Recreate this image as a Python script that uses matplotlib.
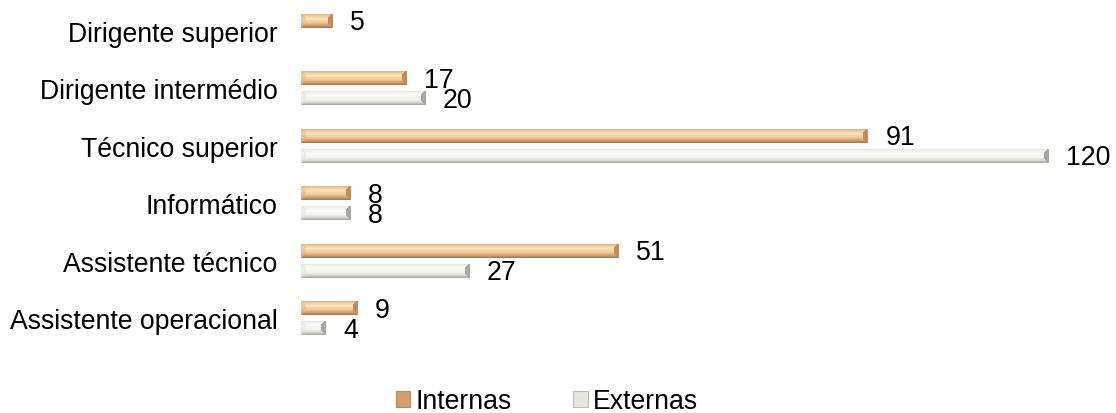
import numpy as np
import matplotlib
matplotlib.use("Agg")
import matplotlib.pyplot as plt
from matplotlib.patches import Patch

categories = ["Dirigente superior", "Dirigente intermédio", "Técnico superior",
              "Informático", "Assistente técnico", "Assistente operacional"]
internas = [5, 17, 91, 8, 51, 9]
externas = [np.nan, 20, 120, 8, 27, 4]
series_names = ["Internas", "Externas"]

plt.rcParams['font.family'] = ['Liberation Sans', 'DejaVu Sans']
FS = 19.2

W, H, DPI = 1116, 414, 100
fig = plt.figure(figsize=(W / DPI, H / DPI), dpi=DPI)
ax = fig.add_axes([301 / W, 66 / H, 810 / W, 345 / H])

n = len(categories)
ypos = np.arange(n)
off = 0.174
bh = 0.25

schemes = {
    "Internas": dict(base="#d9ab7c",
                     prof=[(0.00, (212, 166, 120)), (0.18, (240, 205, 160)),
                           (0.40, (254, 232, 188)), (0.62, (238, 200, 152)),
                           (0.82, (212, 162, 114)), (1.00, (172, 124, 80))],
                     end=(192, 142, 94), left=(224, 182, 136)),
    "Externas": dict(base="#eeeeea",
                     prof=[(0.00, (224, 224, 218)), (0.18, (244, 244, 238)),
                           (0.40, (252, 252, 248)), (0.62, (242, 242, 236)),
                           (0.82, (220, 220, 214)), (1.00, (172, 172, 166)),
                           ],
                     end=(168, 168, 162), left=(230, 230, 224)),
}

ax.set_xlim(0, 130)
ax.set_ylim(n - 0.5, -0.5)


def bevel_image(wpx, hpx, sch):
    wpx = max(int(round(wpx)), 2)
    hpx = max(int(round(hpx)), 2)
    t = np.linspace(0, 1, hpx)
    stops = np.array([s[0] for s in sch["prof"]])
    cols = np.array([s[1] for s in sch["prof"]], float)
    prof = np.stack([np.interp(t, stops, cols[:, k]) for k in range(3)], axis=1)
    img = np.repeat(prof[:, None, :], wpx, axis=1)
    bev = 5
    end = np.array(sch["end"], float)
    left = np.array(sch["left"], float)
    for r in range(hpx):
        d = min(r, hpx - 1 - r)
        bw = min(bev, d + 1)
        img[r, wpx - bw:, :] = end
        img[r, :min(bw, wpx), :] = 0.5 * img[r, :min(bw, wpx), :] + 0.5 * left
    return img / 255.0


def draw_series(vals, ys, name):
    sch = schemes[name]
    v = np.array(vals, float)
    bars = ax.barh(ys, np.nan_to_num(v), height=bh, color=sch["base"], label=name)
    for b, val in zip(bars, v):
        if np.isnan(val) or val == 0:
            b.set_visible(False)
            continue
        x0, y0 = b.get_x(), b.get_y()
        w, h = b.get_width(), b.get_height()
        p0 = ax.transData.transform((x0, y0))
        p1 = ax.transData.transform((x0 + w, y0 + h))
        img = bevel_image(abs(p1[0] - p0[0]), abs(p1[1] - p0[1]), sch)
        im = ax.imshow(img, extent=(x0, x0 + w, y0 + h, y0), aspect='auto',
                       interpolation='nearest', zorder=3)
        im.set_clip_path(b)
        ax.annotate(f"{int(val)}", xy=(x0 + w, y0 + h / 2), xytext=(12.5, -1),
                    textcoords='offset points', va='center', ha='left',
                    fontsize=FS, color='black')
    return bars


draw_series(internas, ypos - off, "Internas")
draw_series(externas, ypos + off, "Externas")
ax.set_xlim(0, 130)
ax.set_ylim(n - 0.5, -0.5)

ax.set_yticks(ypos)
ax.set_yticklabels(categories, fontsize=FS)
ax.tick_params(axis='y', length=0, pad=17)
ax.set_xticks([])
for s in ax.spines.values():
    s.set_visible(False)

handles = [Patch(facecolor="#d2a070", edgecolor="#b88a5c", linewidth=0.8),
           Patch(facecolor="#e6e6e0", edgecolor="#bdbdb6", linewidth=0.8)]
fig.legend(handles, series_names, loc='center', bbox_to_anchor=(547 / W, 12 / H),
           ncol=2, frameon=False, fontsize=FS, handlelength=0.55, handleheight=0.55,
           handletextpad=0.2, columnspacing=2.3, borderpad=0)

fig.savefig("out.png", dpi=DPI)
